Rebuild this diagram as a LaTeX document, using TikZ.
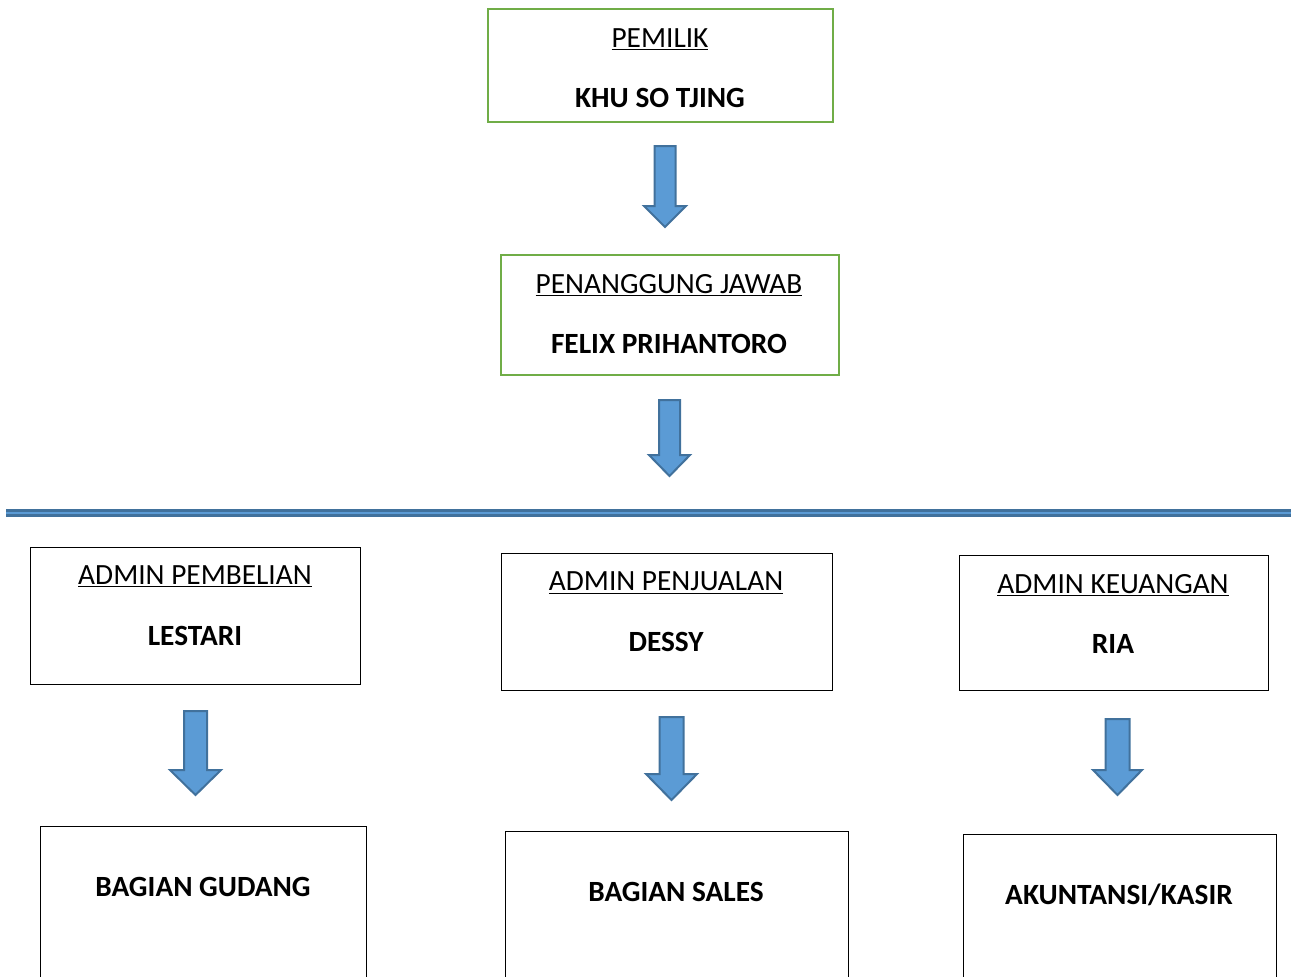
\documentclass[tikz,border=0pt]{standalone}
\usepackage{fontspec}
\setmainfont{Carlito}
\usepackage{tikz}
\tikzset{every picture/.style={line width=0.75pt}}
\tikzset{
  jabatan/.style={font=\fontsize{22}{26}\selectfont},
  nama/.style={font=\fontsize{22}{26}\selectfont\bfseries},
  kotakhijau/.style={draw={rgb,255:red,112;green,173;blue,71},line width=1.5},
  kotak/.style={draw=black,line width=0.9},
  panah/.style={fill={rgb,255:red,91;green,155;blue,213},draw={rgb,255:red,65;green,113;blue,156},line width=1.5}
}

\begin{document}
\begin{tikzpicture}[x=0.75pt,y=0.75pt,yscale=-1,xscale=1]
\useasboundingbox (0,0) rectangle (1291,976);
\clip (0,0) rectangle (1291,976);
%Shape: Rectangle [id:pemilik] 
\draw [kotakhijau] (487.5,8.5) rectangle (832.5,121.5) ;
%Shape: Rectangle [id:pj] 
\draw [kotakhijau] (500.5,254.5) rectangle (838.5,374.5) ;
%Shape: Rectangle [id:pembelian] 
\draw [kotak] (30.5,547.5) rectangle (360.5,684.5) ;
%Shape: Rectangle [id:penjualan] 
\draw [kotak] (501.5,553.5) rectangle (832.5,690.5) ;
%Shape: Rectangle [id:keuangan] 
\draw [kotak] (959.5,555.5) rectangle (1268.5,690.5) ;
%Shape: Rectangle [id:gudang] 
\draw [kotak] (40.5,826.5) rectangle (366.5,990) ;
%Shape: Rectangle [id:sales] 
\draw [kotak] (505.5,831.5) rectangle (848.5,990) ;
%Shape: Rectangle [id:kasir] 
\draw [kotak] (963.5,834.5) rectangle (1276.5,990) ;

%Down Arrow [id:panah1] 
\draw [panah] (654.5,146) -- (675.5,146) -- (675.5,206) -- (686,206) -- (665,227) -- (644,206) -- (654.5,206) -- cycle ;
%Down Arrow [id:panah2] 
\draw [panah] (659,400) -- (680,400) -- (680,455) -- (690,455) -- (669.5,476) -- (649,455) -- (659,455) -- cycle ;
%Down Arrow [id:panah3] 
\draw [panah] (184,711) -- (207,711) -- (207,770) -- (221,770) -- (195.5,795) -- (170,770) -- (184,770) -- cycle ;
%Down Arrow [id:panah4] 
\draw [panah] (659.5,717) -- (683.5,717) -- (683.5,774) -- (697,774) -- (671.5,800) -- (646,774) -- (659.5,774) -- cycle ;
%Down Arrow [id:panah5] 
\draw [panah] (1105.5,719) -- (1129.5,719) -- (1129.5,770) -- (1142,770) -- (1117.5,795) -- (1093,770) -- (1105.5,770) -- cycle ;

%Straight Lines [id:garis] 
\draw [color={rgb, 255:red, 65; green, 113; blue, 156 }, line width=5.5] (6,513) -- (1291,513) ;
\draw [color={rgb, 255:red, 91; green, 155; blue, 213 }, line width=2] (6,513) -- (1291,513) ;

% Text Node
\node (t1) [jabatan] at (660,39) {\underline{PEMILIK}};
% Text Node
\node (n1) [nama] at (660,98) {KHU SO TJING};
% Text Node
\node (t2) [jabatan] at (669,285) {\underline{PENANGGUNG JAWAB}};
% Text Node
\node (n2) [nama] at (669,344) {FELIX PRIHANTORO};
% Text Node
\node (t3) [jabatan] at (195,576) {\underline{ADMIN PEMBELIAN}};
% Text Node
\node (n3) [nama] at (195,636) {LESTARI};
% Text Node
\node (t4) [jabatan] at (666,583) {\underline{ADMIN PENJUALAN}};
% Text Node
\node (n4) [nama] at (666,642) {DESSY};
% Text Node
\node (t5) [jabatan] at (1113,585) {\underline{ADMIN KEUANGAN}};
% Text Node
\node (n5) [nama] at (1113,644) {RIA};
% Text Node
\node (n6) [nama] at (203,887) {BAGIAN GUDANG};
% Text Node
\node (n7) [nama] at (676,892) {BAGIAN SALES};
% Text Node
\node (n8) [nama] at (1119,895) {AKUNTANSI/KASIR};
\end{tikzpicture}
\end{document}
